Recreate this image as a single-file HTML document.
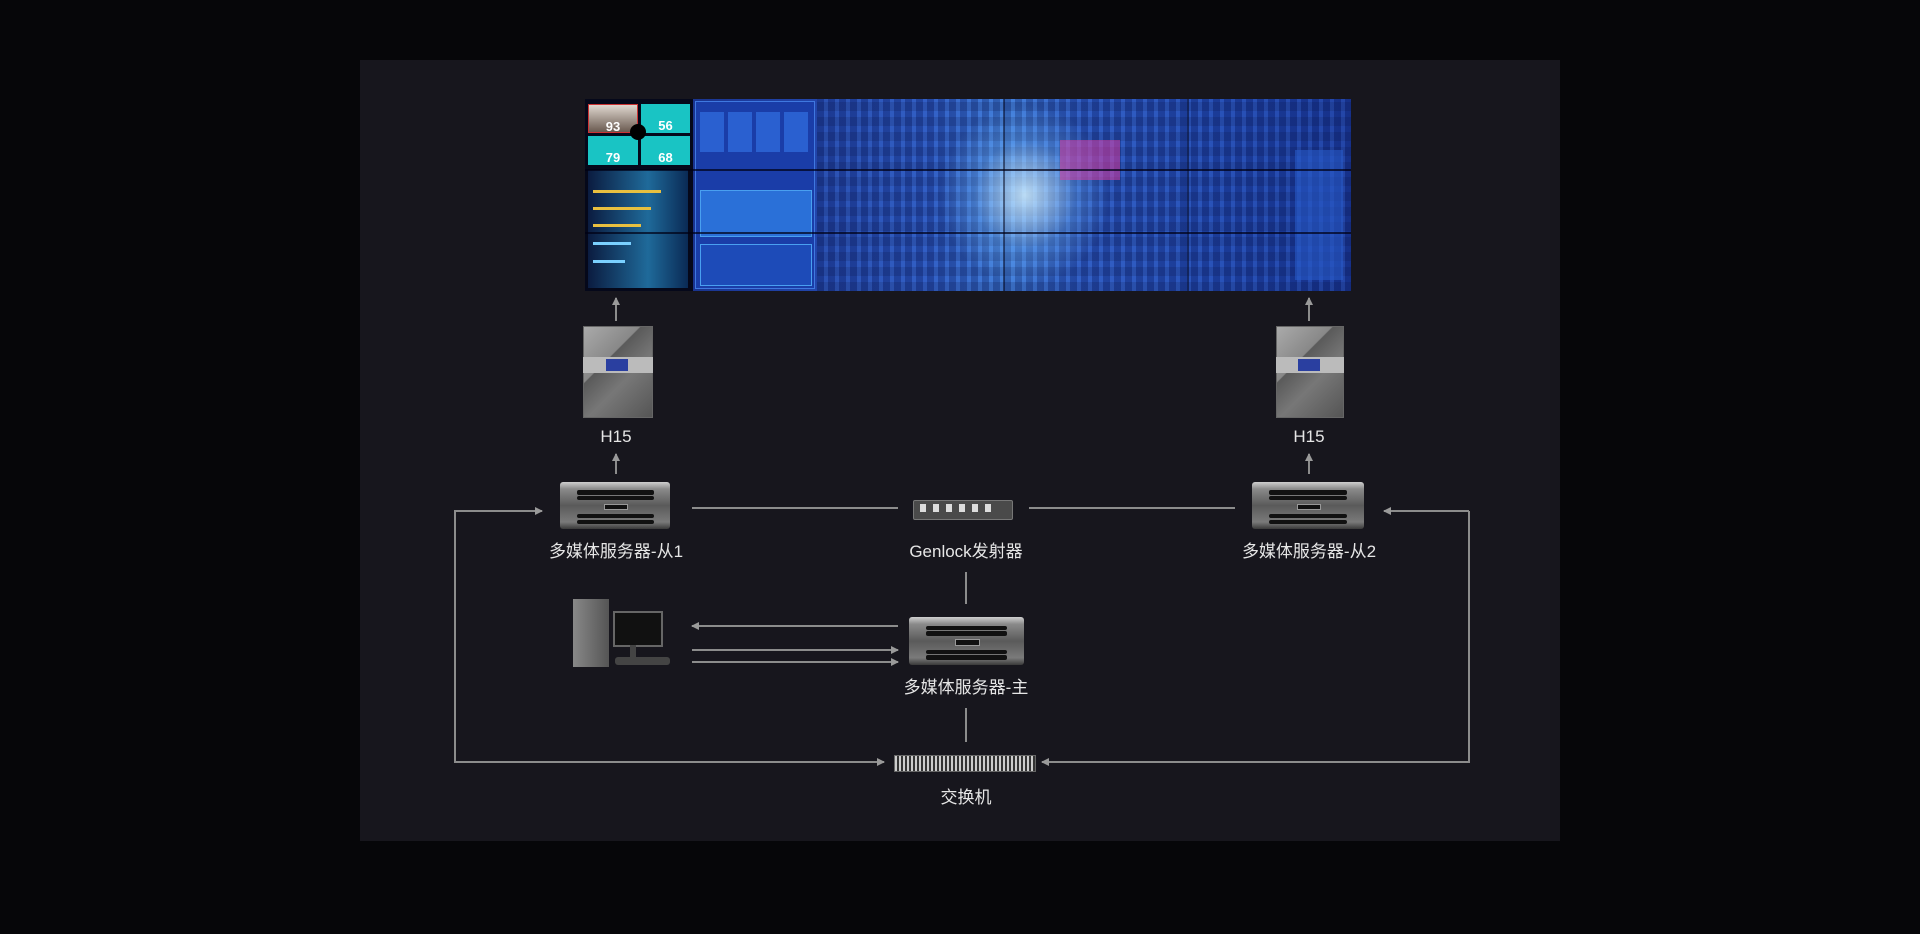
<!DOCTYPE html>
<html><head><meta charset="utf-8"><style>
html,body{margin:0;padding:0;background:#060609;width:1920px;height:934px;overflow:hidden}
#p{position:absolute;left:360px;top:60px;width:1200px;height:781px;background:#17161d}
.a{position:absolute}
.lbl{position:absolute;color:#e6e6e6;font:17px "Liberation Sans","Noto Sans CJK SC",sans-serif;white-space:nowrap;transform:translateX(-50%)}
.srv{position:absolute;border-radius:3px;background:linear-gradient(#cfcfcf,#8a8a8a 15%,#5a5a5a 50%,#7a7a7a 85%,#3a3a3a)}
.srv .s{position:absolute;left:15%;right:15%;height:9%;background:#111;border-radius:2px}
.srv .c{position:absolute;left:40%;width:20%;top:46%;height:10%;background:#111;border:1px solid #999}
.h15{position:absolute;background:linear-gradient(135deg,#aaa 0%,#888 35%,#5a5a5a 36%,#777 60%,#555);border:1px solid #666}
.t{position:absolute;background:#19c4c4;color:#fff;font:bold 13px "Liberation Sans",sans-serif;text-align:center;padding-top:14px;box-sizing:border-box}
</style></head><body>
<div id="p"></div>
<!-- video wall -->
<div class="a" style="left:585px;top:99px;width:766px;height:192px;background:linear-gradient(90deg,#14266e 0%,#1c3a9c 20%,#2a56c0 45%,#3d7ad8 55%,#2a56c0 65%,#1f46b0 85%,#1a3aa0 100%)"></div>
<div class="a" style="left:817px;top:99px;width:534px;height:192px;background:repeating-linear-gradient(90deg,rgba(10,20,70,.25) 0 7px,rgba(140,200,255,.08) 7px 11px),repeating-linear-gradient(0deg,rgba(10,20,70,.2) 0 9px,transparent 9px 15px)"></div>
<div class="a" style="left:940px;top:105px;width:170px;height:180px;background:radial-gradient(closest-side,rgba(210,240,255,.85),rgba(120,190,255,.3) 60%,rgba(120,190,255,0))"></div>
<div class="a" style="left:1060px;top:140px;width:60px;height:40px;background:rgba(220,60,160,.55)"></div>
<div class="a" style="left:585px;top:99px;width:108px;height:192px;background:#05081a"></div>
<div class="a" style="left:588px;top:170px;width:100px;height:118px;background:linear-gradient(90deg,#0b1c40,#1f6a9a 60%,#0a2a55)"></div>
<div class="t" style="left:588px;top:104px;width:50px;height:29px;background:linear-gradient(#e0d8d0,#6a5a50);border:1px solid #c33">93</div>
<div class="t" style="left:641px;top:104px;width:49px;height:29px">56</div>
<div class="t" style="left:588px;top:136px;width:50px;height:29px">79</div>
<div class="t" style="left:641px;top:136px;width:49px;height:29px">68</div>
<div class="a" style="left:630px;top:124px;width:16px;height:16px;border-radius:50%;background:#000"></div>
<div class="a" style="left:593px;top:190px;width:68px;height:3px;background:#e8c040"></div>
<div class="a" style="left:593px;top:207px;width:58px;height:3px;background:#e8c040"></div>
<div class="a" style="left:593px;top:224px;width:48px;height:3px;background:#e8c040"></div>
<div class="a" style="left:593px;top:242px;width:38px;height:3px;background:#7ad0ff"></div>
<div class="a" style="left:593px;top:260px;width:32px;height:3px;background:#7ad0ff"></div>
<div class="a" style="left:695px;top:101px;width:120px;height:188px;background:#1a3da8;border:1px solid #3f78e0;box-sizing:border-box"></div>
<div class="a" style="left:700px;top:112px;width:110px;height:40px;background:repeating-linear-gradient(90deg,#2a60d0 0 24px,#1a3da8 24px 28px)"></div>
<div class="a" style="left:700px;top:190px;width:110px;height:45px;background:#2a70d8;border:1px solid #49a0f0"></div>
<div class="a" style="left:700px;top:244px;width:110px;height:40px;background:#1d4bb8;border:1px solid #49a0f0"></div>
<div class="a" style="left:1295px;top:150px;width:48px;height:130px;background:rgba(40,90,200,.6)"></div>
<div class="a" style="left:585px;top:169px;width:766px;height:2px;background:rgba(0,0,20,.7)"></div>
<div class="a" style="left:585px;top:232px;width:766px;height:2px;background:rgba(0,0,20,.7)"></div>
<div class="a" style="left:1003px;top:99px;width:2px;height:192px;background:rgba(0,0,20,.5)"></div>
<div class="a" style="left:1187px;top:99px;width:2px;height:192px;background:rgba(0,0,20,.5)"></div>
<!-- H15 -->
<div class="h15" style="left:583px;top:326px;width:68px;height:90px"></div>
<div class="a" style="left:583px;top:357px;width:70px;height:16px;background:#bbb"></div><div class="a" style="left:606px;top:359px;width:22px;height:12px;background:#2a3fa0"></div>
<div class="h15" style="left:1276px;top:326px;width:66px;height:90px"></div>
<div class="a" style="left:1276px;top:357px;width:68px;height:16px;background:#bbb"></div><div class="a" style="left:1298px;top:359px;width:22px;height:12px;background:#2a3fa0"></div>
<!-- servers -->
<div class="srv" style="left:560px;top:482px;width:110px;height:47px"><div class="s" style="top:18%"></div><div class="s" style="top:30%"></div><div class="s" style="top:68%"></div><div class="s" style="top:80%"></div><div class="c"></div></div>
<div class="srv" style="left:1252px;top:482px;width:112px;height:47px"><div class="s" style="top:18%"></div><div class="s" style="top:30%"></div><div class="s" style="top:68%"></div><div class="s" style="top:80%"></div><div class="c"></div></div>
<div class="srv" style="left:909px;top:617px;width:115px;height:48px"><div class="s" style="top:18%"></div><div class="s" style="top:30%"></div><div class="s" style="top:68%"></div><div class="s" style="top:80%"></div><div class="c"></div></div>
<!-- genlock -->
<div class="a" style="left:913px;top:500px;width:98px;height:18px;background:#4a4a4a;border:1px solid #777;border-radius:2px"></div>
<div class="a" style="left:920px;top:504px;width:72px;height:8px;background:repeating-linear-gradient(90deg,#ddd 0 6px,transparent 6px 13px)"></div>
<!-- PC -->
<div class="a" style="left:573px;top:599px;width:36px;height:68px;background:linear-gradient(90deg,#888,#555)"></div>
<div class="a" style="left:613px;top:611px;width:46px;height:32px;background:#111;border:2px solid #666"></div>
<div class="a" style="left:630px;top:645px;width:6px;height:12px;background:#444"></div>
<div class="a" style="left:615px;top:657px;width:55px;height:8px;background:#444;border-radius:3px"></div>
<!-- switch -->
<div class="a" style="left:894px;top:755px;width:142px;height:17px;background:repeating-linear-gradient(90deg,#ccc 0 2px,#333 2px 4px);border:1px solid #666;box-sizing:border-box"></div>
<svg class="a" style="left:0;top:0" width="1920" height="934">
<defs><marker id="m" markerWidth="8" markerHeight="8" refX="7" refY="4" orient="auto" markerUnits="userSpaceOnUse"><path d="M0,0 L8,4 L0,8 z" fill="#9a9a9a"/></marker></defs>
<g stroke="#8c8c8c" stroke-width="2" fill="none">
<line x1="616" y1="321" x2="616" y2="298" marker-end="url(#m)"/>
<line x1="1309" y1="321" x2="1309" y2="298" marker-end="url(#m)"/>
<line x1="616" y1="474" x2="616" y2="454" marker-end="url(#m)"/>
<line x1="1309" y1="474" x2="1309" y2="454" marker-end="url(#m)"/>
<line x1="692" y1="508" x2="898" y2="508"/>
<line x1="1029" y1="508" x2="1235" y2="508"/>
<polyline points="884,762 455,762 455,511 542,511" marker-end="url(#m)"/>
<line x1="455" y1="762" x2="884" y2="762" marker-end="url(#m)"/>
<polyline points="1469,511 1469,762 1042,762" marker-end="url(#m)"/>
<line x1="1469" y1="511" x2="1384" y2="511" marker-end="url(#m)"/>
<line x1="966" y1="572" x2="966" y2="604"/>
<line x1="966" y1="708" x2="966" y2="742"/>
<line x1="898" y1="626" x2="692" y2="626" marker-end="url(#m)"/>
<line x1="692" y1="650" x2="898" y2="650" marker-end="url(#m)"/>
<line x1="692" y1="662" x2="898" y2="662" marker-end="url(#m)"/>
</g></svg>
<div class="lbl" style="left:616px;top:427px">H15</div>
<div class="lbl" style="left:1309px;top:427px">H15</div>
<div class="lbl" style="left:616px;top:537px">多媒体服务器-从1</div>
<div class="lbl" style="left:966px;top:537px">Genlock发射器</div>
<div class="lbl" style="left:1309px;top:537px">多媒体服务器-从2</div>
<div class="lbl" style="left:966px;top:673px">多媒体服务器-主</div>
<div class="lbl" style="left:966px;top:783px">交换机</div>
</body></html>
